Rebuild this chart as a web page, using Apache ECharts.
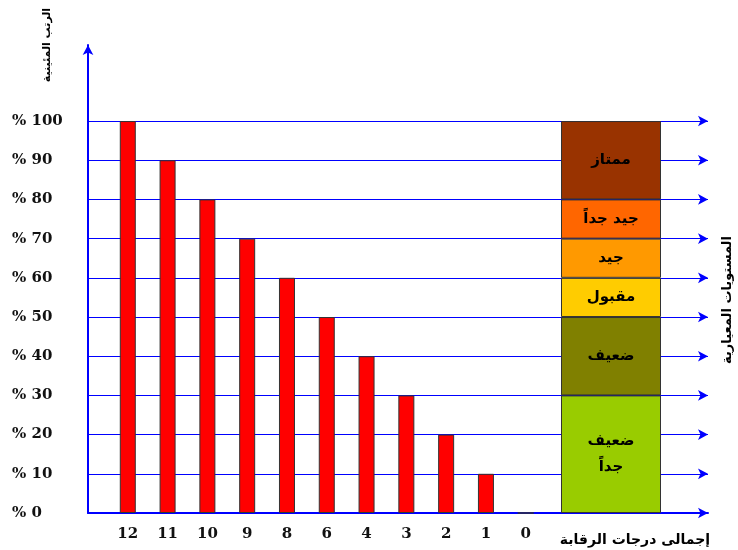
<!DOCTYPE html>
<html>
<head>
<meta charset="utf-8">
<script src="https://cdn.jsdelivr.net/npm/echarts@6/dist/echarts.min.js"></script>
<style>
html,body{margin:0;padding:0;background:#fff;}
#chart{width:738px;height:550px;}
</style>
</head>
<body>
<div id="chart"></div>
<script>
// درجات الرقابة و الرتب المئينية
var scores = ['12', '11', '10', '9', '8', '6', '4', '3', '2', '1', '0'];
var percentiles = [100, 90, 80, 70, 60, 50, 40, 30, 20, 10, 0];
var gridLevels = [10, 20, 30, 40, 50, 60, 70, 80, 90, 100];
// المستويات المعيارية (من الأسفل إلى الأعلى)
var levelNames = ['ضعيف\nجداً', 'ضعيف', 'مقبول', 'جيد', 'جيد جداً', 'ممتاز'];
var levelSpans = [30, 20, 10, 10, 10, 20];
var levelColors = ['#99CC00', '#808000', '#FFCC00', '#FF9900', '#FF6600', '#993300'];

var yMax = 119.4; // axis arrow goes above 100
var xMax = 15.58;
var arabicFont = 'DejaVu Sans';
var numFont = 'DejaVu Serif';

var chart = echarts.init(document.getElementById('chart'));

var barData = [];
for (var i = 0; i < scores.length; i++) {
	barData.push([i + 1, percentiles[i]]);
}

var series = [{
	type: 'bar',
	xAxisIndex: 0,
	yAxisIndex: 0,
	barWidth: 16,
	z: 2,
	itemStyle: {color: '#FF0000', borderColor: '#333', borderWidth: 1},
	data: barData,
	markLine: {
		z: 1,
		silent: true,
		symbol: ['none', 'arrow'],
		symbolSize: [8, 10],
		label: {show: false},
		lineStyle: {color: '#0000FF', type: 'solid', width: 1},
		data: gridLevels.map(function (v) { return {yAxis: v}; })
	}
}];

// عمود المستويات
for (var j = 0; j < levelSpans.length; j++) {
	series.push({
		type: 'bar',
		name: levelNames[j],
		xAxisIndex: 1,
		yAxisIndex: 1,
		stack: 'levels',
		barWidth: '100%',
		z: 3,
		itemStyle: {color: levelColors[j], borderColor: '#333', borderWidth: 1},
		label: {
			show: true,
			position: 'inside',
			formatter: levelNames[j],
			color: '#000',
			fontFamily: arabicFont,
			fontWeight: 'bold',
			fontSize: 15,
			lineHeight: 26
		},
		data: [levelSpans[j]]
	});
}

var option = {
	animation: false,
	backgroundColor: '#fff',
	grid: [
		{left: 88, top: 45, width: 620, height: 468},
		{left: 561, top: 45, width: 100, height: 468}
	],
	xAxis: [{
		type: 'value',
		gridIndex: 0,
		min: 0,
		max: xMax,
		interval: 1,
		splitLine: {show: false},
		axisTick: {show: false},
		axisLine: {
			show: true,
			symbol: ['none', 'arrow'],
			symbolSize: [8, 10],
			lineStyle: {color: '#0000FF', width: 2}
		},
		axisLabel: {
			margin: 14,
			color: '#111',
			fontFamily: numFont,
			fontWeight: 'bold',
			fontSize: 15,
			showMaxLabel: false,
			formatter: function (v) {
				return (v >= 1 && v <= scores.length) ? scores[v - 1] : '';
			}
		}
	}, {
		type: 'category',
		gridIndex: 1,
		data: [''],
		show: false
	}],
	yAxis: [{
		type: 'value',
		gridIndex: 0,
		min: 0,
		max: yMax,
		interval: 10,
		splitLine: {show: false},
		axisTick: {show: false},
		axisLine: {
			show: true,
			symbol: ['none', 'arrow'],
			symbolSize: [8, 10],
			lineStyle: {color: '#0000FF', width: 2}
		},
		axisLabel: {
			margin: 76,
			align: 'left',
			color: '#111',
			fontFamily: numFont,
			fontWeight: 'bold',
			fontSize: 15,
			showMaxLabel: false,
			formatter: function (v) {
				return v <= 100 ? '% ' + v : '';
			}
		}
	}, {
		type: 'value',
		gridIndex: 1,
		min: 0,
		max: yMax,
		show: false
	}],
	graphic: [{
		type: 'text',
		x: 47, y: 45,
		rotation: Math.PI / 2,
		style: {
			text: 'الرتب المئينية',
			font: 'bold 11px "DejaVu Sans"',
			fill: '#000',
			align: 'center',
			verticalAlign: 'middle'
		}
	}, {
		type: 'text',
		x: 728, y: 300,
		rotation: Math.PI / 2,
		style: {
			text: 'المستويات المعيارية',
			font: 'bold 13px "DejaVu Sans"',
			fill: '#000',
			align: 'center',
			verticalAlign: 'middle'
		}
	}, {
		type: 'text',
		x: 635, y: 540,
		style: {
			text: 'إجمالى درجات الرقابة',
			font: 'bold 14px "DejaVu Sans"',
			fill: '#000',
			align: 'center',
			verticalAlign: 'middle'
		}
	}],
	series: series
};

chart.setOption(option);
</script>
</body>
</html>
